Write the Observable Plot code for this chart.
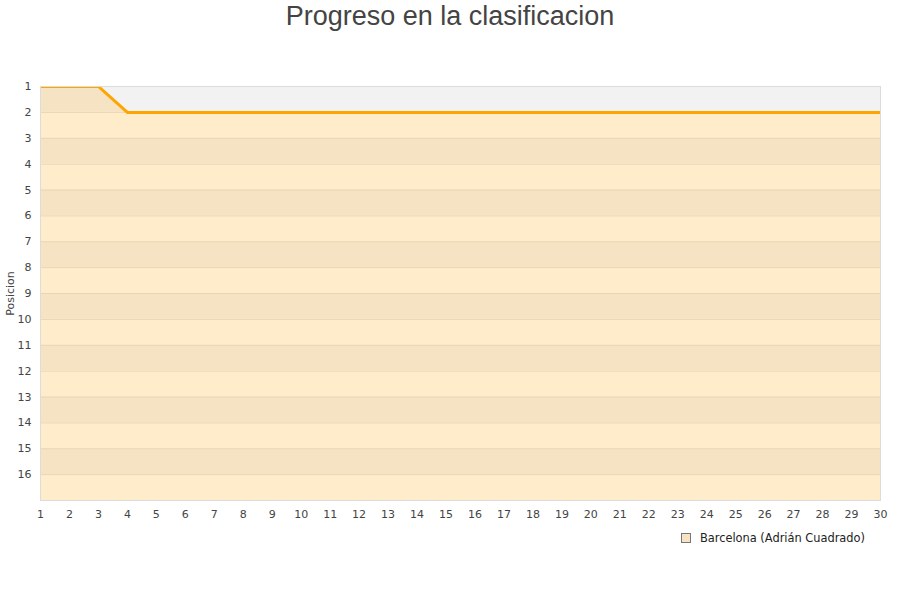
<!DOCTYPE html>
<html>
<head>
<meta charset="utf-8">
<script src="https://cdn.jsdelivr.net/npm/d3@7"></script>
<script src="https://cdn.jsdelivr.net/npm/@observablehq/plot@0.6"></script>
<style>
  html, body { margin: 0; padding: 0; background: #fff; }
  #title { height: 40px; text-align: center; font-family: "Liberation Sans", Arial, sans-serif; font-size: 27px; color: #444; line-height: 32px; }
  #legend { position: relative; height: 30px; font-family: "DejaVu Sans", sans-serif; font-size: 11.4px; color: #222; }
  #legend .item { position: absolute; right: 35px; top: 1px; display: flex; align-items: center; }
  #legend .sw { width: 8px; height: 8px; border: 1px solid #777; margin-right: 9px; }
</style>
</head>
<body>
<div id="title">Progreso en la clasificacion</div>
<div id="chart"></div>
<div id="legend"></div>
<script>
const team = "Barcelona (Adrián Cuadrado)";
const rounds = d3.range(1, 31);
const positions = [1, 1, 1, 2, 2, 2, 2, 2, 2, 2, 2, 2, 2, 2, 2, 2, 2, 2, 2, 2, 2, 2, 2, 2, 2, 2, 2, 2, 2, 2];
const rankTicks = d3.range(1, 17);
const numTeams = 16;

const data = rounds.map((r, i) => ({round: r, pos: positions[i]}));
const bands = rankTicks.map(k => ({y1: k, y2: k + 1, dark: k % 2 === 1}));
const xMin = d3.min(rounds), xMax = d3.max(rounds);

const bandDark = "#f5e3c3", bandLight = "#ffecca", gridColor = "#ebd5b0", bgGray = "#f2f2f2";

const chart = Plot.plot({
  width: 900,
  height: 490,
  marginLeft: 40,
  marginRight: 20,
  marginTop: 46,
  marginBottom: 30,
  style: {fontFamily: "DejaVu Sans, sans-serif", fontSize: "11px", color: "#444", background: "#fff"},
  x: {domain: [xMin, xMax], ticks: rounds, tickSize: 0, tickPadding: 10, tickFormat: d => String(d), label: null},
  y: {domain: [1, numTeams + 1], reverse: true, ticks: rankTicks, tickSize: 0, tickPadding: 9, tickFormat: d => String(d),
      label: "Posicion", labelAnchor: "center", labelArrow: "none", labelOffset: 34},
  marks: [
    Plot.rect(bands, {x1: xMin, x2: xMax, y1: "y1", y2: "y2", fill: d => d.dark ? bandDark : bandLight}),
    Plot.ruleY(rankTicks.slice(1), {stroke: gridColor, strokeWidth: 1}),
    Plot.areaY(data, {x: "round", y1: 1, y2: "pos", fill: bgGray}),
    Plot.line(data, {x: "round", y: "pos", stroke: "#ffa500", strokeWidth: 3, clip: true}),
    Plot.frame({stroke: "#dcdcdc", strokeWidth: 1})
  ]
});
document.getElementById("chart").appendChild(chart);

const legend = document.getElementById("legend");
const item = document.createElement("div");
item.className = "item";
const sw = document.createElement("span");
sw.className = "sw";
sw.style.background = bandDark;
const lab = document.createElement("span");
lab.textContent = team;
item.appendChild(sw);
item.appendChild(lab);
legend.appendChild(item);
</script>
</body>
</html>
